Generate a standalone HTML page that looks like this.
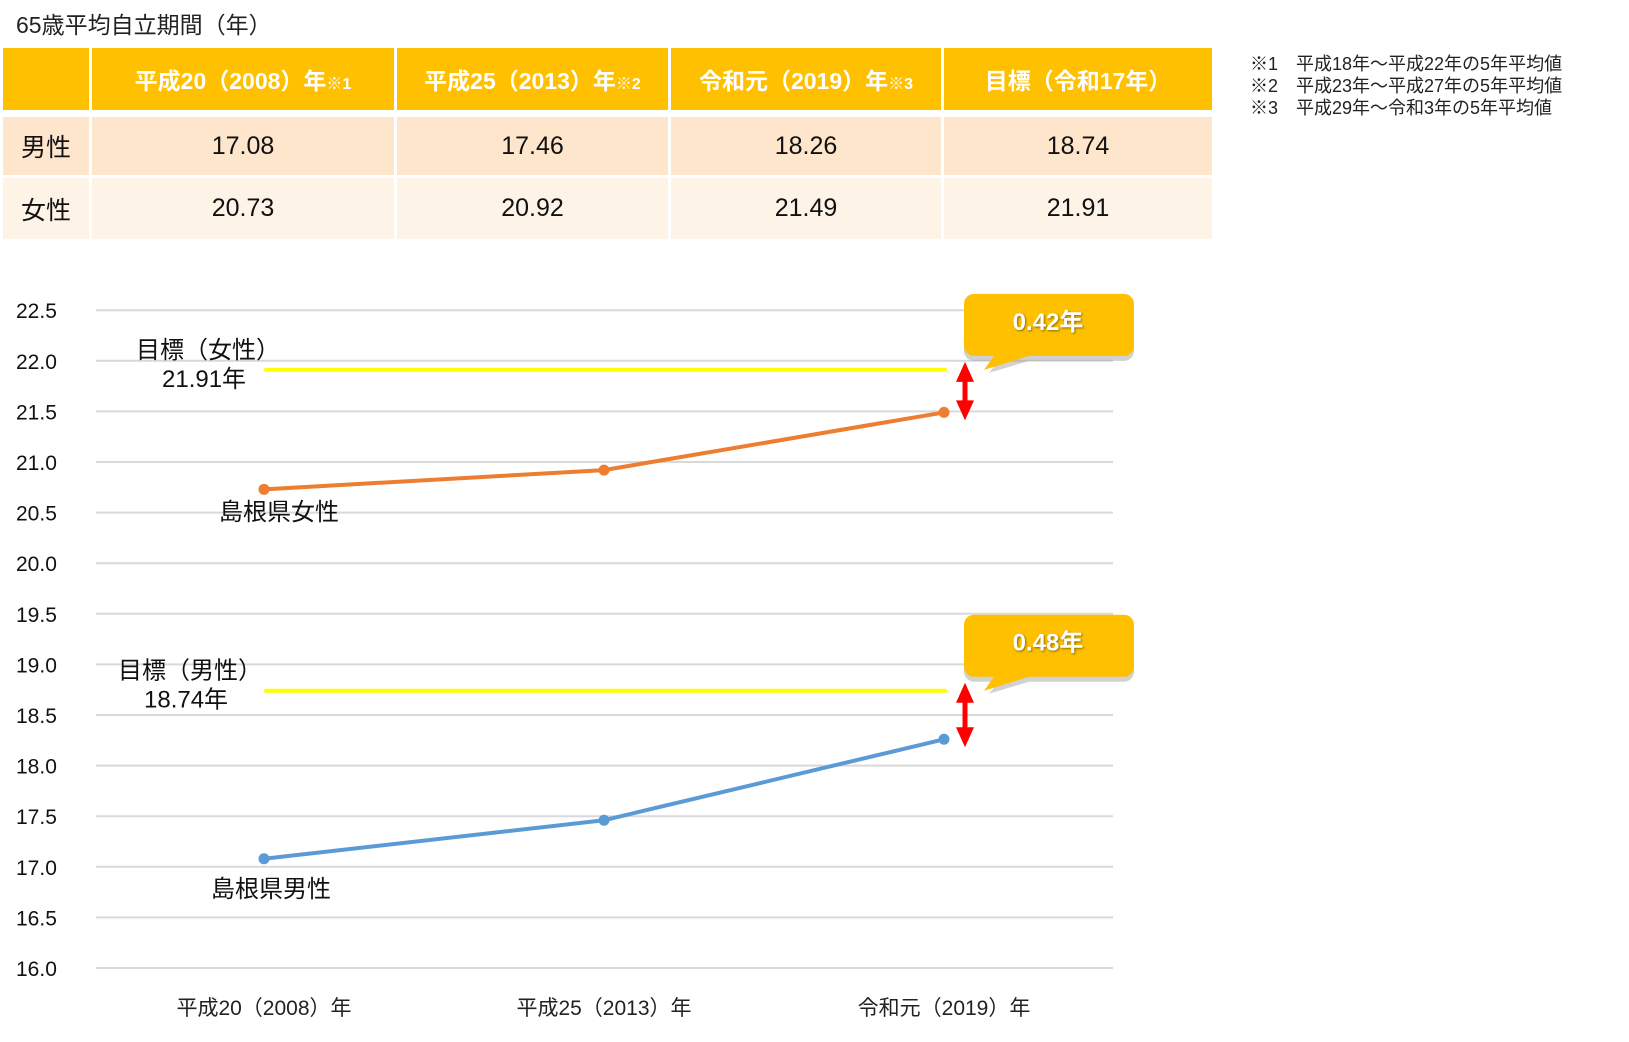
<!DOCTYPE html>
<html><head><meta charset="utf-8"><style>
body{margin:0;background:#fff;font-family:"Liberation Sans","Noto Sans CJK JP",sans-serif;}
#wrap{position:relative;width:1629px;height:1042px;overflow:hidden;}
.t{position:absolute;}
table{position:absolute;left:3px;top:48px;border-collapse:separate;border-spacing:3px 0;margin-left:-3px}
td{text-align:center;font-size:25px;color:#111;padding:0}
</style></head><body><div id="wrap">
<div class="t" style="left:16px;top:6px;font-size:23px;color:#222">65歳平均自立期間（年）</div>
<table>
<tr style="height:62px;background:#FFC000;color:#fff;font-weight:bold">
<td style="width:86px;background:#FFC000"></td>
<td style="width:302px;color:#fff;font-weight:bold;font-size:23px">平成20（2008）年<span style="font-size:16px">※1</span></td>
<td style="width:271px;color:#fff;font-weight:bold;font-size:23px">平成25（2013）年<span style="font-size:16px">※2</span></td>
<td style="width:270px;color:#fff;font-weight:bold;font-size:23px">令和元（2019）年<span style="font-size:16px">※3</span></td>
<td style="width:268px;color:#fff;font-weight:bold;font-size:23px">目標（令和17年）</td>
</tr>
<tr style="height:7px"><td colspan="5"></td></tr>
<tr style="height:58px;background:#FDE6CC">
<td style="background:#FDE6CC">男性</td><td style="background:#FDE6CC">17.08</td><td style="background:#FDE6CC">17.46</td><td style="background:#FDE6CC">18.26</td><td style="background:#FDE6CC">18.74</td></tr>
<tr style="height:3px"><td colspan="5"></td></tr>
<tr style="height:61px">
<td style="background:#FEF3E7">女性</td><td style="background:#FEF3E7">20.73</td><td style="background:#FEF3E7">20.92</td><td style="background:#FEF3E7">21.49</td><td style="background:#FEF3E7">21.91</td></tr>
</table>
<div class="t" style="left:1250px;top:53px;font-size:18px;line-height:22px;color:#222">※1　平成18年～平成22年の5年平均値<br>※2　平成23年～平成27年の5年平均値<br>※3　平成29年～令和3年の5年平均値</div>
<svg id="chart" width="1629" height="1042" style="position:absolute;left:0;top:0"></svg>
</div>
<script>
const categories=["平成20（2008）年","平成25（2013）年","令和元（2019）年"];
const female=[20.73,20.92,21.49];
const male=[17.08,17.46,18.26];
const targetFemale=21.91;
const targetMale=18.74;
const yTicks=["16.0","16.5","17.0","17.5","18.0","18.5","19.0","19.5","20.0","20.5","21.0","21.5","22.0","22.5"];
const gapLabels=["0.42年","0.48年"];
const NS="http://www.w3.org/2000/svg";
const svg=document.getElementById('chart');
const y=v=>968-(v-16)/0.5*50.6;
const x=i=>264+i*340;
function mk(t,a,p){const e=document.createElementNS(NS,t);for(const k in a)e.setAttribute(k,a[k]);(p||svg).appendChild(e);return e;}
yTicks.forEach(t=>{const v=+t;
const g=mk('line',{x1:96,x2:1113,y1:y(v),y2:y(v),stroke:'#d9d9d9','stroke-width':2});


const l=mk('text',{x:16,y:y(v)+8,'font-size':21,fill:'#111'});l.textContent=t;

});
categories.forEach((c,i)=>{const l=mk('text',{x:x(i),y:1015,'font-size':21,fill:'#222','text-anchor':'middle'});l.textContent=c;

});
function series(d,col,name){
const p=mk('polyline',{points:d.map((v,i)=>x(i)+','+y(v)).join(' '),fill:'none',stroke:col,'stroke-width':4});


d.forEach((v,i)=>{const c=mk('circle',{cx:x(i),cy:y(v),r:5.5,fill:col});

});}
series(female,'#ED7D31','female');
series(male,'#5B9BD5','male');
function target(v,last,lbl1,lbl2,lx,gap,tag){
const t=mk('line',{x1:266,x2:945,y1:y(v),y2:y(v),stroke:'#FFFF00','stroke-width':4,'stroke-linecap':'round'});


const a=mk('text',{x:lx,y:y(v)-12,'font-size':24,fill:'#111'});a.textContent=lbl1;


const b=mk('text',{x:lx+26,y:y(v)+17,'font-size':24,fill:'#111'});b.textContent=lbl2;


const ax=965,y1=y(v)-8,y2=y(last)+8;
const ar=mk('g',{});


mk('line',{x1:ax,x2:ax,y1:y1+18,y2:y2-18,stroke:'#FF0000','stroke-width':5},ar);
mk('polygon',{points:`${ax},${y1} ${ax-9},${y1+20} ${ax+9},${y1+20}`,fill:'#FF0000'},ar);
mk('polygon',{points:`${ax},${y2} ${ax-9},${y2-20} ${ax+9},${y2-20}`,fill:'#FF0000'},ar);
const by=y(v)-76;
const g=mk('g',{});


mk('path',{d:`M974,${by+5} h150 a10 10 0 0 1 10 10 v42 a10 10 0 0 1 -10 10 h-95 l-40 12 l10 -12 h-25 a10 10 0 0 1 -10 -10 v-42 a10 10 0 0 1 10 -10z`,fill:'#999',opacity:0.45},g);
mk('path',{d:`M974,${by} h150 a10 10 0 0 1 10 10 v42 a10 10 0 0 1 -10 10 h-95 l-45 14 l10 -14 h-20 a10 10 0 0 1 -10 -10 v-42 a10 10 0 0 1 10 -10z`,fill:'#FFC000'},g);
const tx=mk('text',{x:1048,y:by+36,'font-size':24,'font-weight':'bold',fill:'#fff','text-anchor':'middle',style:'text-shadow:1px 1px 2px #8a6a00'},g);tx.textContent=gap;}
target(targetFemale,female[2],'目標（女性）','21.91年',136,gapLabels[0],'female');
target(targetMale,male[2],'目標（男性）','18.74年',118,gapLabels[1],'male');
const fl=mk('text',{x:219,y:520,'font-size':24,fill:'#111'});fl.textContent='島根県女性';


const ml=mk('text',{x:211,y:897,'font-size':24,fill:'#111'});ml.textContent='島根県男性';


</script></body></html>
